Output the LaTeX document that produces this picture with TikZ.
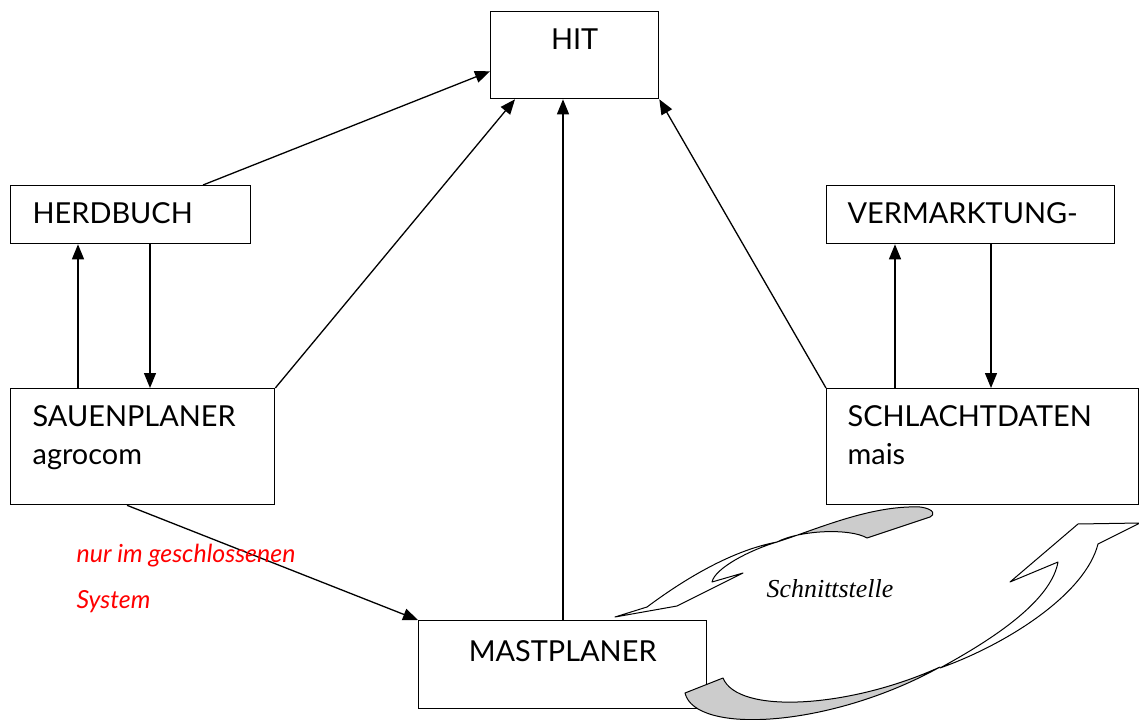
\documentclass[tikz,border=0pt]{standalone}
\usepackage{fontspec}
\setmainfont{Lato}
\newfontfamily\serifit{Liberation Serif}
\usetikzlibrary{arrows.meta, positioning, calc}

\begin{document}
\begin{tikzpicture}[x=1bp, y=-1bp, line width=1.3bp,
    box/.style={draw, fill=white, anchor=north west, inner sep=0pt},
    boxtext/.style={inner sep=0pt, font=\fontsize{29}{38}\selectfont},
    arr/.style={-{Triangle[length=15bp, width=12bp]}},
    note/.style={inner sep=0pt, text=red, align=left, font=\fontsize{25}{46}\selectfont\itshape},
    ribbon/.style={draw, line width=1bp, line join=round}]
    \useasboundingbox (0,0) rectangle (1139,720);

    % Boxes
    \node[box, minimum width=168bp, minimum height=87bp] (hit) at (490,11) {};
    \node[box, minimum width=240bp, minimum height=58bp] (herd) at (10,185) {};
    \node[box, minimum width=288bp, minimum height=58bp] (verm) at (826,185) {};
    \node[box, minimum width=264bp, minimum height=116bp] (sau) at (10,388) {};
    \node[box, minimum width=312bp, minimum height=116bp] (schl) at (826,388) {};
    \node[box, minimum width=288bp, minimum height=88bp] (mast) at (418,620) {};

    % Box texts
    \node[boxtext, anchor=base] (hittxt) at ($(hit.north)+(0,39)$) {HIT};
    \node[boxtext, anchor=base west] (herdtxt) at ($(herd.north west)+(22,39)$) {HERDBUCH};
    \node[boxtext, anchor=base west] (vermtxt) at ($(verm.north west)+(21,39)$) {VERMARKTUNG-};
    \node[boxtext, anchor=north west, align=left] (sautxt) at ($(sau.north west)+(22,17)$) {SAUENPLANER\\agrocom};
    \node[boxtext, anchor=north west, align=left] (schltxt) at ($(schl.north west)+(21,17)$) {SCHLACHTDATEN\\mais};
    \node[boxtext, anchor=base] (masttxt) at ($(mast.north)+(0,41)$) {MASTPLANER};

    % Connectors to HIT
    \draw[arr] ($(herd.north west)+(193,0)$) -- ($(hit.south west)+(0,-28)$);
    \draw[arr] (sau.north east) -- ($(hit.south west)+(25,0)$);
    \draw[arr] ($(mast.north west)+(145,0)$) -- ($(hit.south west)+(73,0)$);
    \draw[arr] (schl.north west) -- (hit.south east);

    % Connectors between the side boxes
    \draw[arr] ($(sau.north west)+(68,0)$) -- ($(herd.south west)+(68,0)$);
    \draw[arr] ($(herd.south west)+(140,0)$) -- ($(sau.north west)+(140,0)$);
    \draw[arr] ($(schl.north west)+(69,0)$) -- ($(verm.south west)+(69,0)$);
    \draw[arr] ($(verm.south west)+(165,0)$) -- ($(schl.north west)+(165,0)$);
    \draw[arr] ($(sau.south west)+(117,0)$) -- (mast.north west);

    % Notes
    \node[note, anchor=base west] (closed) at (76,608) {nur im geschlossenen\\System};
    \node[inner sep=0pt, anchor=base, font={\fontsize{26}{30}\selectfont\serifit\itshape}] (schnitt) at (830,597) {Schnittstelle};

    % Ribbon arrows (Schnittstelle)
    \draw[ribbon, fill=white] (615,617) -- (647,607)
        .. controls (690,575) and (735,550) .. (777,542)
        .. controls (750,550) and (715,568) .. (712,582)
        -- (743,573) -- (677,606) -- cycle;
    \draw[ribbon, fill=black!20] (777,542)
        .. controls (815,530) and (870,505) .. (920,507)
        .. controls (935,509) and (935,515) .. (930,517)
        -- (867,538)
        .. controls (850,528) and (800,530) .. (777,542) -- cycle;
    \draw[ribbon, fill=white] (940,668)
        .. controls (1005,645) and (1085,595) .. (1098,544)
        -- (1140,523) -- (1078,524) -- (1010,582) -- (1058,562)
        .. controls (1052,595) and (1010,630) .. (940,668) -- cycle;
    \draw[ribbon, fill=black!20] (723,678)
        .. controls (738,715) and (850,708) .. (940,667)
        .. controls (830,728) and (695,735) .. (685,693) -- cycle;
\end{tikzpicture}
\end{document}
